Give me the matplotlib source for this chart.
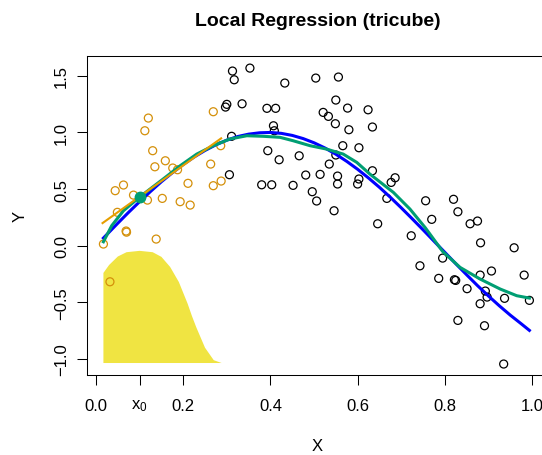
import numpy as np
import matplotlib
matplotlib.use("Agg")
import matplotlib.pyplot as plt

plt.rcParams['font.family'] = ['Liberation Sans', 'DejaVu Sans']
plt.rcParams['mathtext.fontset'] = 'custom'
plt.rcParams['mathtext.rm'] = 'Liberation Sans'
plt.rcParams['mathtext.default'] = 'regular'

# points inside the window around x0 (orange)
xin = [0.120, 0.112, 0.269, 0.130, 0.159, 0.135, 0.176, 0.187, 0.263, 0.286,
       0.211, 0.269, 0.287, 0.044, 0.063, 0.086, 0.118, 0.152, 0.193, 0.216,
       0.049, 0.069, 0.070, 0.138, 0.017, 0.032]
yin = [1.127, 1.015, 1.183, 0.839, 0.750, 0.697, 0.686, 0.671, 0.721, 0.883,
       0.551, 0.530, 0.571, 0.486, 0.536, 0.447, 0.403, 0.418, 0.389, 0.359,
       0.295, 0.130, 0.120, 0.059, 0.015, -0.318]

# remaining points (black)
xout = [0.313, 0.317, 0.353, 0.300, 0.297, 0.335, 0.392, 0.412, 0.407, 0.409,
        0.311, 0.394, 0.420, 0.306, 0.380, 0.403,
        0.433, 0.504, 0.556, 0.550, 0.577, 0.624, 0.521, 0.533, 0.549, 0.580,
        0.634, 0.466, 0.566, 0.603, 0.550, 0.535, 0.481, 0.514, 0.554, 0.554,
        0.603, 0.600, 0.634, 0.686, 0.677, 0.452, 0.496, 0.506, 0.546, 0.667,
        0.646, 0.756, 0.770, 0.820, 0.830, 0.858, 0.875, 0.723, 0.882, 0.959,
        0.743, 0.795, 0.786, 0.822, 0.825, 0.851, 0.881, 0.907, 0.982, 0.893,
        0.897, 0.937, 0.994, 0.881, 0.830, 0.891, 0.935]
yout = [1.542, 1.465, 1.568, 1.248, 1.224, 1.253, 1.213, 1.213, 1.059, 1.015,
        0.966, 0.839, 0.759, 0.627, 0.538, 0.538,
        1.436, 1.480, 1.489, 1.286, 1.215, 1.200, 1.177, 1.142, 1.077, 1.024,
        1.048, 0.794, 0.883, 0.865, 0.801, 0.721, 0.624, 0.630, 0.615, 0.545,
        0.589, 0.545, 0.662, 0.600, 0.559, 0.533, 0.477, 0.395, 0.309, 0.418,
        0.194, 0.397, 0.233, 0.410, 0.300, 0.194, 0.218, 0.088, 0.026, -0.018,
        -0.177, -0.109, -0.288, -0.300, -0.306, -0.379, -0.259, -0.223, -0.259, -0.400,
        -0.453, -0.464, -0.482, -0.512, -0.659, -0.706, -1.044]

# true function (blue)
xtrue = [0.017, 0.05, 0.075, 0.1, 0.125, 0.15, 0.175, 0.2, 0.225, 0.25, 0.275,
         0.3, 0.325, 0.35, 0.375, 0.4, 0.425, 0.45, 0.475, 0.5, 0.525, 0.55,
         0.575, 0.6, 0.625, 0.65, 0.675, 0.7, 0.725, 0.75, 0.775, 0.8, 0.825,
         0.85, 0.875, 0.9, 0.925, 0.95, 0.975, 0.994]
ytrue = [0.068, 0.199, 0.296, 0.389, 0.479, 0.565, 0.644, 0.717, 0.783, 0.841,
         0.891, 0.932, 0.964, 0.985, 0.997, 1.000, 0.992, 0.974, 0.946, 0.909,
         0.863, 0.808, 0.745, 0.675, 0.598, 0.516, 0.428, 0.335, 0.239, 0.141,
         0.041, -0.058, -0.158, -0.256, -0.352, -0.443, -0.530, -0.612, -0.688, -0.747]

# local regression fit (green)
xfit = [0.017, 0.036, 0.063, 0.101, 0.154, 0.193, 0.231, 0.269, 0.307, 0.346,
        0.384, 0.422, 0.452, 0.491, 0.529, 0.567, 0.598, 0.628, 0.682, 0.720,
        0.755, 0.795, 0.835, 0.881, 0.927, 0.965, 0.994]
yfit = [0.035, 0.177, 0.309, 0.433, 0.589, 0.706, 0.809, 0.883, 0.942, 0.971,
        0.966, 0.957, 0.927, 0.883, 0.853, 0.809, 0.736, 0.633, 0.471, 0.324,
        0.160, -0.050, -0.191, -0.294, -0.382, -0.441, -0.462]

# local linear fit at x0 (orange)
x0 = 0.1
y0 = 0.433
xloc = [0.015, 0.287]
yloc = [0.200, 0.948]

# tricube weights, drawn as a shape above the axis
xker = [0.017, 0.03, 0.05, 0.07, 0.1, 0.13, 0.15, 0.17, 0.19, 0.21, 0.22,
        0.23, 0.25, 0.27, 0.288]
yker = [-0.24, -0.17, -0.095, -0.057, -0.045, -0.057, -0.098, -0.187, -0.32,
        -0.51, -0.62, -0.72, -0.90, -1.01, -1.035]
kbase = -1.035

fig = plt.figure(figsize=(5.42, 4.56), dpi=100)
ax = fig.add_axes([0.16, 0.1754, 0.8515, 0.6989])

ax.fill(xker + [xker[-1], xker[0]], yker + [kbase, kbase],
        color='#F0E442', lw=0, zorder=1)
ax.scatter(xout, yout, s=33, facecolors='none', edgecolors='black',
           linewidths=0.9, zorder=2)
ax.scatter(xin, yin, s=33, facecolors='none', edgecolors='#D4900A',
           linewidths=0.9, zorder=2)
ax.plot(xtrue, ytrue, color='#0000FF', lw=2.2, zorder=3)
ax.plot(xfit, yfit, color='#009E73', lw=2.2, zorder=4)
ax.plot(xloc, yloc, color='#E69F00', lw=1.5, zorder=5)
ax.plot([x0], [y0], 'o', color='#009E73', ms=7.5, zorder=6)

ax.set_xlim(-0.0213, 1.0372)
ax.set_ylim(-1.141, 1.672)

ax.set_xticks([0.0, x0, 0.2, 0.4, 0.6, 0.8, 1.0])
ax.set_xticklabels(['0.0', 'x$_0$', '0.2', '0.4', '0.6', '0.8', '1.0'])
ax.set_yticks([-1.0, -0.5, 0.0, 0.5, 1.0, 1.5])
ax.set_yticklabels(['\u22121.0', '\u22120.5', '0.0', '0.5', '1.0', '1.5'],
                   rotation=90, va='center')
ax.tick_params(axis='both', length=7.2, width=0.75, labelsize=12)
ax.tick_params(axis='x', pad=9)
ax.tick_params(axis='y', pad=5.5)
ax.get_xticklines()[2].set_color('#E69F00')

for sp in ax.spines.values():
    sp.set_linewidth(0.75)

ax.set_title('Local Regression (tricube)', fontsize=14, fontweight='bold', pad=22.5)
ax.set_xlabel('X', fontsize=12, labelpad=18)
ax.set_ylabel('Y', fontsize=12, labelpad=19)

plt.savefig('out.png', dpi=100)
